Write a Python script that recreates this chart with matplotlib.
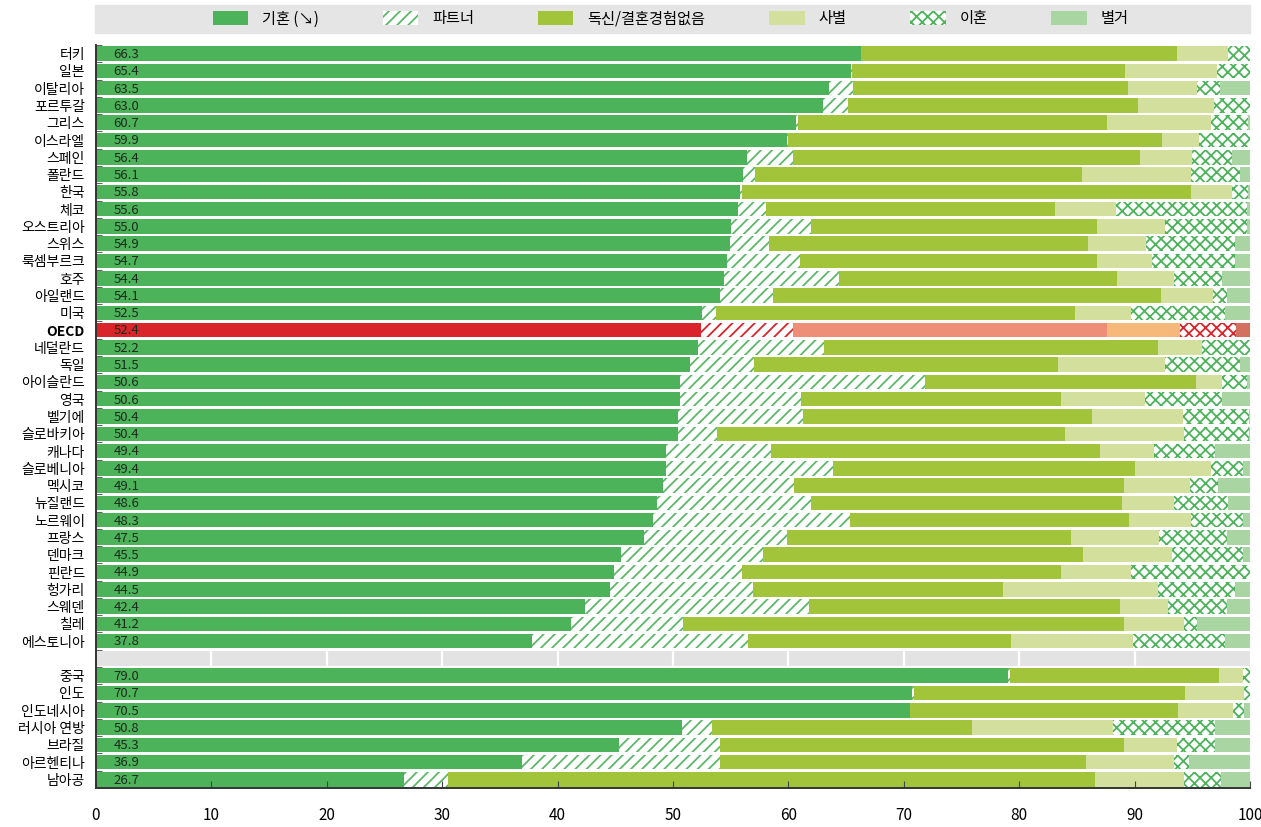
import numpy as np
import matplotlib.pyplot as plt
from matplotlib.patches import Patch, Rectangle

plt.rcParams['font.family'] = ['Noto Sans CJK KR', 'DejaVu Sans']
plt.rcParams['hatch.linewidth'] = 1.3

# 국가별 혼인 상태 구성 (%)
countries = ['터키', '일본', '이탈리아', '포르투갈', '그리스', '이스라엘', '스페인', '폴란드',
             '한국', '체코', '오스트리아', '스위스', '룩셈부르크', '호주', '아일랜드', '미국',
             'OECD', '네덜란드', '독일', '아이슬란드', '영국', '벨기에', '슬로바키아', '캐나다',
             '슬로베니아', '멕시코', '뉴질랜드', '노르웨이', '프랑스', '덴마크', '핀란드', '헝가리',
             '스웨덴', '칠레', '에스토니아']
others = ['중국', '인도', '인도네시아', '러시아 연방', '브라질', '아르헨티나', '남아공']

married = [66.3, 65.4, 63.5, 63.0, 60.7, 59.9, 56.4, 56.1, 55.8, 55.6, 55.0, 54.9, 54.7, 54.4,
           54.1, 52.5, 52.4, 52.2, 51.5, 50.6, 50.6, 50.4, 50.4, 49.4, 49.4, 49.1, 48.6, 48.3,
           47.5, 45.5, 44.9, 44.5, 42.4, 41.2, 37.8,
           79.0, 70.7, 70.5, 50.8, 45.3, 36.9, 26.7]
partner = [0.0, 0.1, 2.1, 2.2, 0.1, 0.1, 4.0, 1.0, 0.2, 2.5, 7.0, 3.4, 6.3, 10.0,
           4.6, 1.2, 8.0, 10.9, 5.5, 21.2, 10.5, 10.9, 3.4, 9.1, 14.5, 11.4, 13.4, 17.0,
           12.4, 12.3, 11.1, 12.4, 19.4, 9.7, 18.7,
           0.2, 0.2, 0.0, 2.6, 8.8, 17.2, 3.8]
single = [27.4, 23.7, 23.8, 25.1, 26.8, 32.4, 30.1, 28.3, 38.9, 25.0, 24.7, 27.7, 25.7, 24.1,
          33.6, 31.1, 27.2, 28.9, 26.4, 23.5, 22.5, 25.0, 30.2, 28.5, 26.1, 28.6, 26.9, 24.2,
          24.6, 27.7, 27.6, 21.7, 26.9, 38.2, 22.8,
          18.1, 23.5, 23.3, 22.5, 35.0, 31.7, 56.1]
widowed = [4.4, 7.9, 6.0, 6.6, 9.0, 3.2, 4.5, 9.5, 3.5, 5.3, 5.9, 5.0, 4.8, 4.9,
           4.5, 4.9, 6.3, 3.8, 9.2, 2.3, 7.3, 7.9, 10.3, 4.7, 6.6, 5.7, 4.5, 5.4,
           7.6, 7.7, 6.1, 13.4, 4.2, 5.2, 10.6,
           2.1, 5.1, 4.7, 12.2, 4.6, 7.6, 7.7]
divorced = [1.9, 2.9, 2.0, 3.1, 3.2, 4.4, 3.4, 4.2, 1.4, 11.3, 7.1, 7.7, 7.2, 4.2,
            1.2, 8.1, 4.9, 4.2, 6.5, 2.1, 6.7, 5.7, 5.6, 5.3, 2.8, 2.4, 4.7, 4.5,
            5.9, 6.2, 10.3, 6.7, 5.1, 1.1, 7.9,
            0.6, 0.5, 1.0, 8.9, 3.3, 1.3, 3.2]
separated = [0.0, 0.0, 2.6, 0.0, 0.2, 0.0, 1.6, 0.9, 0.2, 0.3, 0.3, 1.3, 1.3, 2.4,
             2.0, 2.2, 1.2, 0.0, 0.9, 0.3, 2.4, 0.1, 0.1, 3.0, 0.6, 2.8, 1.9, 0.6,
             2.0, 0.6, 0.0, 1.3, 2.0, 4.6, 2.2,
             0.0, 0.0, 0.5, 3.0, 3.0, 5.3, 2.5]

legend_labels = ['기혼 (↘)', '파트너', '독신/결혼경험없음', '사별', '이혼', '별거']

green = ['#4cb35a', '#5cb868', '#a2c43a', '#d3df9c', '#4cb35a', '#a8d5a2']
red = ['#d9242b', '#d9242b', '#ee8e79', '#f6b97a', '#d9242b', '#d4705f']
hatches = [None, '///', None, None, 'xxx', None]

# 행 위치: OECD 국가 35개, 빈 줄 하나, 기타 7개국
labels = countries + others
pos = np.r_[np.arange(len(countries)), np.arange(len(others)) + len(countries) + 1]
gap = len(countries)

fig = plt.figure(figsize=(12.61, 8.27), dpi=100)
ax = fig.add_axes([96 / 1261, 1 - 788 / 827, 1154 / 1261, 743 / 827])

segments = [married, partner, single, widowed, divorced, separated]
h = 0.84
for i, (y, name) in enumerate(zip(pos, labels)):
    cols = red if name == 'OECD' else green
    left = 0.0
    for k, seg in enumerate(segments):
        w = seg[i]
        if w <= 0:
            continue
        if hatches[k]:
            ax.barh(y, w, left=left, height=h, color='white', edgecolor=cols[k],
                    hatch=hatches[k], linewidth=0)
        else:
            ax.barh(y, w, left=left, height=h, color=cols[k], linewidth=0)
        left += w
    ax.text(1.5, y + 0.05, f'{married[i]:.1f}', va='center', ha='left',
            fontsize=9.5, color='#1d2b1d')

# 빈 줄 구분 띠
ax.barh(gap, 100, height=h, color='#e3e3e3', linewidth=0)
ax.vlines(np.arange(10, 100, 10), gap - h / 2, gap + h / 2, color='white', lw=1.6)

ax.set_xlim(0, 100)
ax.set_ylim(len(labels) + 0.5, -0.5)
ax.set_yticks(pos, labels)
for t in ax.get_yticklabels():
    t.set_fontsize(10)
    if t.get_text() == 'OECD':
        t.set_fontweight('bold')
ax.set_yticks(np.arange(-0.5, len(labels) + 0.5, 1), minor=True)
ax.tick_params(axis='y', which='major', length=0, pad=8)
ax.tick_params(axis='y', which='minor', direction='in', length=4, color='#444444')
ax.set_xticks(np.arange(0, 101, 10))
ax.tick_params(axis='x', direction='in', length=5, pad=14, labelsize=11, color='#444444')

for s in ['top', 'right']:
    ax.spines[s].set_visible(False)
for s in ['left', 'bottom']:
    ax.spines[s].set_color('#333333')
    ax.spines[s].set_linewidth(1.4)

# 범례
fig.add_artist(Rectangle((95 / 1261, 1 - 33 / 827), 1155 / 1261, 28 / 827,
                         transform=fig.transFigure, color='#e5e5e5', zorder=0))
handles = []
for k, lab in enumerate(legend_labels):
    if hatches[k]:
        handles.append(Patch(facecolor='white', edgecolor=green[k], hatch=hatches[k],
                             linewidth=0, label=lab))
    else:
        handles.append(Patch(facecolor=green[k], linewidth=0, label=lab))
fig.legend(handles=handles, loc='center', bbox_to_anchor=(0.532, 1 - 19 / 827), ncol=6,
           frameon=False, fontsize=11, handlelength=2.3, handleheight=1.0,
           columnspacing=4.2, handletextpad=0.9)

fig.savefig('out.png', dpi=100)
